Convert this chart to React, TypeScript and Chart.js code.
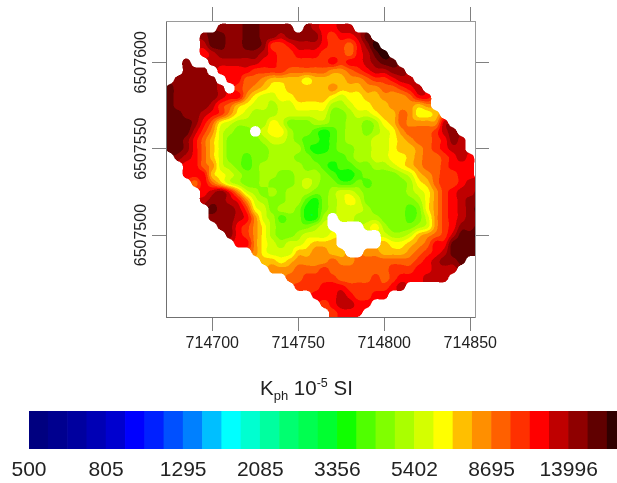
import React, { useEffect, useRef } from "react";
import { Chart, registerables } from "chart.js";

Chart.register(...registerables);

const FONT = '"Liberation Sans", Arial, sans-serif';

// Colour levels of the legend, low to high
const levelColors = [
  "#000080", "#00008f", "#00009f", "#0000b5", "#0000cf", "#0000ff", "#0020ff", "#0050ff",
  "#0080ff", "#00bfff", "#00ffff", "#00ffd0", "#00ff9f", "#00ff70", "#00ff50", "#00ff30",
  "#10ff00", "#50ff00", "#80ff00", "#aaff00", "#d4ff00", "#ffff00", "#ffbf00", "#ff8f00",
  "#ff6000", "#ff3000", "#ff0000", "#bf0000", "#8f0000", "#600000", "#300000",
];
const levelLabels = ["500", "805", "1295", "2085", "3356", "5402", "8695", "13996"];
const levelLabelStep = 4;

// Map axis ticks
const eastTicks = [714700, 714750, 714800, 714850];
const northTicks = [6507500, 6507550, 6507600];

// Sample positions of the map grid
const eastStart = 714670;
const northStart = 6507625;
const gridStep = 5;

// Level read at every sample; a = level 16 ... o = level 30, "." = no data
const levelCodes = "abcdefghijklmno";
const firstCodedLevel = 16;
const levelRows = [
  "......................................",
  ".......mmmnnmmmm.mlkkll...............",
  ".....mnnmmnnmmlmmmmkjkkln.............",
  ".....lnnmmnnmjjklllkjjikmo............",
  ".....klmmmmmlkjjkkkjjjiklno...........",
  "...m..llllllkkjjjjjjkjkklmnn..........",
  "...mmm.kkkkjjjjiiiiihhijkllmm.........",
  "..mmmmm.kkiihggggfgggghhijjkll........",
  ".nmmmmml.jihgffggggghggghhiijkl.......",
  "nnmmmmmlkkhfeeffggggfeffgghhhikk......",
  "nnmmmmljigfeedeeffffddeffgghhhgh......",
  "nnnmmlkjhfedddeeeeeeccdeefggihffg.....",
  "nnnnmkifeddddfecccddccddcdfgihhhhl....",
  "nnnnljhedcc.effdccbabcddcdefhiiijlm...",
  "nnnmkigeccccdeedcbbabcdddeefghiijkml..",
  ".nnmkigecccccddddbaabccddeefgghijkll..",
  "..mlkigeccbccdddccbbbbcddeeffghiijklk.",
  "...kkihedcbcdddddccbabbccddefghiijkkk.",
  "...kkkgfedccddccdddcbaabccccdeghijjkk.",
  "....ikigedccdcccdedccbbcbccccdfgijjkll",
  ".....klmkhedcdcdddccdeedcccccdefhjkllm",
  ".....lmmlkhedccddbacdefeccccccdfhjklmm",
  "......nmmljfecddcaacdeeedccccbcfhjklmn",
  "......mmmlkhedbccaad.eedddcccbcehjklmm",
  ".......mmkjhfdccccde....efdcccdehjkmmn",
  "........mkjhfdccdeeef.....eddeghijlnno",
  ".........kkhfedeefggg.....gffghikknnnn",
  "...........hfeeegghhgg..hhggghijklnnnn",
  "............ggfghhhhihhiiiiiiijklmmn..",
  ".............hhhiiijiiiiiiijjjkklll...",
  "...............iijjjjiiiijijkkklll....",
  "................jjjkkkjjjjjkl.........",
  "..................kkklkjjkk...........",
  "...................jkllkk.............",
  "....................jkkk..............",
  "....................jkk...............",
];

const levelGrid: (number | null)[][] = levelRows.map((row) =>
  row.split("").map((c) => (c === "." ? null : levelCodes.indexOf(c) + firstCodedLevel + 0.5))
);

const mapPoints: { x: number; y: number; level: number }[] = [];
levelGrid.forEach((row, j) =>
  row.forEach((level, i) => {
    if (level !== null) mapPoints.push({ x: eastStart + i * gridStep, y: northStart - j * gridStep, level });
  })
);

const hexToRgb = (h: string) => [parseInt(h.slice(1, 3), 16), parseInt(h.slice(3, 5), 16), parseInt(h.slice(5, 7), 16)];
const levelRgb = levelColors.map(hexToRgb);

// Rendering helpers for the smooth contour edges
const cubicWeights = (t: number) => [
  -0.5 * t + t * t - 0.5 * t * t * t,
  1 - 2.5 * t * t + 1.5 * t * t * t,
  0.5 * t + 2 * t * t - 1.5 * t * t * t,
  -0.5 * t * t + 0.5 * t * t * t,
];

const extendAcrossGaps = (grid: (number | null)[][]) => {
  let cur = grid.map((r) => r.slice());
  for (let pass = 0; pass < 40; pass++) {
    let missing = false;
    cur = cur.map((row, j) =>
      row.map((v, i) => {
        if (v !== null) return v;
        let s = 0;
        let n = 0;
        for (const [dj, di] of [[-1, 0], [1, 0], [0, -1], [0, 1], [-1, -1], [-1, 1], [1, -1], [1, 1]]) {
          const q = cur[j + dj]?.[i + di];
          if (q !== null && q !== undefined) {
            s += q;
            n++;
          }
        }
        if (!n) missing = true;
        return n ? s / n : null;
      })
    );
    if (!missing) break;
  }
  return cur as number[][];
};

// Paints the filled contour bands from the dataset's grid through the chart's scales
const contourPlugin = {
  id: "contourFill",
  beforeDatasetsDraw(chart: any) {
    const { ctx, chartArea, scales } = chart;
    const ss = 2;
    const w = Math.round(chartArea.right - chartArea.left);
    const h = Math.round(chartArea.bottom - chartArea.top);
    const off = document.createElement("canvas");
    off.width = w * ss;
    off.height = h * ss;
    const octx = off.getContext("2d")!;
    const img = octx.createImageData(off.width, off.height);
    const rows = levelGrid.length;
    const cols = levelGrid[0].length;
    const filled = extendAcrossGaps(levelGrid);
    const present = levelGrid.map((r) => r.map((v) => (v === null ? 0 : 1)));
    for (let py = 0; py < off.height; py++) {
      const north = scales.y.getValueForPixel(chartArea.top + (py + 0.5) / ss);
      const fj = (northStart - north) / gridStep;
      const j0 = Math.floor(fj);
      const wj = cubicWeights(fj - j0);
      for (let px = 0; px < off.width; px++) {
        const east = scales.x.getValueForPixel(chartArea.left + (px + 0.5) / ss);
        const fi = (east - eastStart) / gridStep;
        const i0 = Math.floor(fi);
        const wi = cubicWeights(fi - i0);
        let val = 0;
        let mask = 0;
        for (let b = 0; b < 4; b++) {
          const jj = Math.max(0, Math.min(rows - 1, j0 - 1 + b));
          for (let a = 0; a < 4; a++) {
            const ii = Math.max(0, Math.min(cols - 1, i0 - 1 + a));
            const wt = wj[b] * wi[a];
            val += wt * filled[jj][ii];
            mask += wt * present[jj][ii];
          }
        }
        if (mask < 0.58) continue;
        const idx = Math.max(0, Math.min(levelRgb.length - 1, Math.floor(val)));
        const c = levelRgb[idx];
        const k = (py * off.width + px) * 4;
        img.data[k] = c[0];
        img.data[k + 1] = c[1];
        img.data[k + 2] = c[2];
        img.data[k + 3] = 255;
      }
    }
    octx.putImageData(img, 0, 0);
    ctx.save();
    ctx.imageSmoothingEnabled = true;
    ctx.imageSmoothingQuality = "high";
    ctx.drawImage(off, chartArea.left, chartArea.top, w, h);
    ctx.restore();
  },
};

const frameAxis = (min: number, max: number, ticks: number[], position: string, size: number, color: string, labelled: boolean): any => ({
  type: "linear",
  position,
  min,
  max,
  afterBuildTicks: (s: any) => {
    s.ticks = ticks.map((value) => ({ value }));
  },
  afterFit: (s: any) => {
    if (position === "left" || position === "right") s.width = size;
    else s.height = size;
  },
  grid: { drawOnChartArea: false, drawTicks: true, tickLength: 14, tickColor: "#808080", tickWidth: 1 },
  border: { display: true, color, width: 1, z: 1 },
  ticks: {
    display: labelled,
    autoSkip: false,
    color: "#222222",
    font: { family: FONT, size: 16 },
    callback: (v: number) => String(v),
  },
});

export default function App() {
  const mapRef = useRef<HTMLCanvasElement>(null);
  const barRef = useRef<HTMLCanvasElement>(null);

  useEffect(() => {
    const eastMin = 714673.08;
    const eastMax = 714852.73;
    const northMax = 6507623.9;
    const northMin = 6507452.6;

    const left = frameAxis(northMin, northMax, northTicks, "left", 166, "#707070", true);
    left.ticks.minRotation = 90;
    left.ticks.maxRotation = 90;
    left.ticks.crossAlign = "center";
    left.ticks.padding = -21;
    const bottom = frameAxis(eastMin, eastMax, eastTicks, "bottom", 53, "#707070", true);
    bottom.ticks.padding = 3;
    bottom.ticks.maxRotation = 0;

    const map = new Chart(mapRef.current!, {
      type: "scatter",
      data: {
        datasets: [{ label: "Kph", data: mapPoints, pointRadius: 0, showLine: false, xAxisID: "x", yAxisID: "y" }],
      },
      options: {
        animation: false,
        responsive: false,
        layout: { padding: 0 },
        plugins: { legend: { display: false }, tooltip: { enabled: false }, title: { display: false } },
        scales: {
          x: bottom,
          y: left,
          x2: frameAxis(eastMin, eastMax, eastTicks, "top", 21, "#9a9a9a", false),
          y2: frameAxis(northMin, northMax, northTicks, "right", 142, "#9a9a9a", false),
        },
      } as any,
      plugins: [contourPlugin],
    });

    const bar = new Chart(barRef.current!, {
      type: "bar",
      data: {
        datasets: [
          {
            data: levelColors.map((_, i) => ({ x: i + 0.5, y: 1 })),
            backgroundColor: levelColors,
            borderWidth: 0,
            barPercentage: 1,
            categoryPercentage: 1,
          },
        ],
      },
      options: {
        animation: false,
        responsive: false,
        layout: { padding: { left: 29, top: 11, right: 0, bottom: 0 } },
        plugins: { legend: { display: false }, tooltip: { enabled: false } },
        scales: {
          x: {
            type: "linear",
            offset: false,
            min: 0,
            max: 30.51,
            grid: { display: false, offset: false },
            border: { display: false },
            afterBuildTicks: (s: any) => {
              s.ticks = levelLabels.map((_, i) => ({ value: i * levelLabelStep }));
            },
            afterFit: (s: any) => {
              s.height = 34;
            },
            ticks: {
              autoSkip: false,
              maxRotation: 0,
              padding: 1,
              color: "#222222",
              font: { family: FONT, size: 21 },
              callback: (v: number) => levelLabels[v / levelLabelStep],
            },
          },
          y: { min: 0, max: 1, display: false },
        },
      } as any,
    });

    return () => {
      map.destroy();
      bar.destroy();
    };
  }, []);

  return (
    <div style={{ position: "absolute", left: 0, top: 0, width: 617, height: 483, overflow: "hidden", background: "#fff" }}>
      <canvas ref={mapRef} width={617} height={370} style={{ position: "absolute", left: 0, top: 0 }} />
      <canvas ref={barRef} width={617} height={83} style={{ position: "absolute", left: 0, top: 400 }} />
      <div
        style={{
          position: "absolute",
          left: 260,
          top: 376,
          fontFamily: FONT,
          fontSize: 20.5,
          lineHeight: "24px",
          color: "#222",
          whiteSpace: "nowrap",
        }}
      >
        K<sub style={{ fontSize: 13, lineHeight: 0 }}>ph</sub> 10<sup style={{ fontSize: 12.5, lineHeight: 0 }}>-5</sup> SI
      </div>
    </div>
  );
}
